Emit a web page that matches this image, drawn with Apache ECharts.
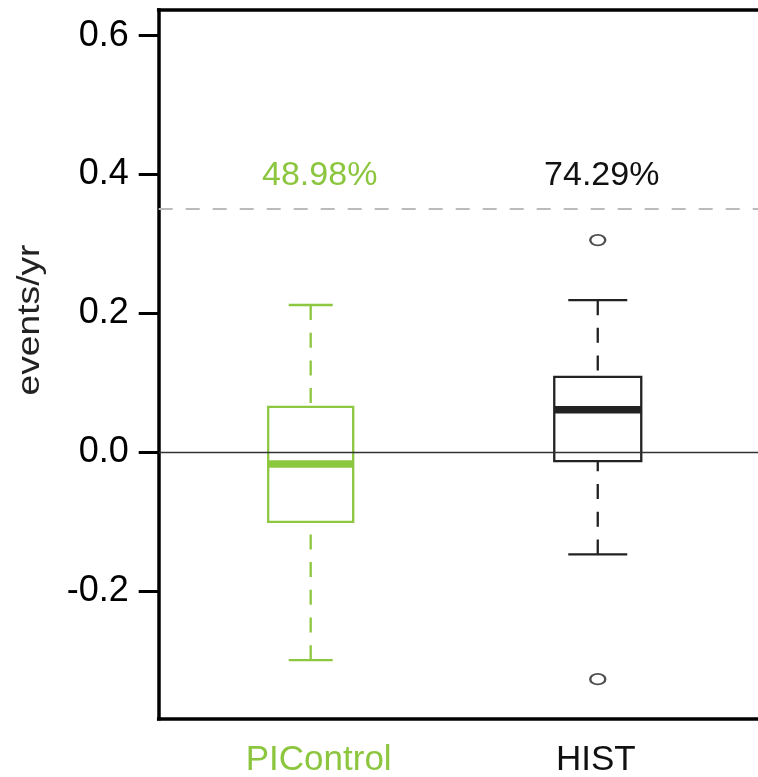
<!DOCTYPE html>
<html><head><meta charset="utf-8">
<script src="https://cdn.jsdelivr.net/npm/echarts@6/dist/echarts.min.js"></script>
<style>html,body{margin:0;padding:0;background:#fff;overflow:hidden}#c{width:758px;height:777px}</style>
</head><body><div id="c"></div>
<script>
// ---- data ----
const categories = ['PIControl', 'HIST'];
const whiskerLow = [-0.2997, -0.1474];
const quartile1 = [-0.1004, -0.0130];
const medians = [-0.0169, 0.0612];
const quartile3 = [0.0653, 0.1085];
const whiskerHigh = [0.2120, 0.2190];
const outlierCategoryIndex = [1, 1];
const outlierValues = [0.3055, -0.3270];
const percentLabels = ['48.98%', '74.29%'];
const thresholdValue = 0.351;
const yTickValues = [-0.2, 0, 0.2, 0.4, 0.6];

// ---- styles / layout ----
const FONT = 'Liberation Sans, Arial, Helvetica, sans-serif';
const boxColors = ['#8dc63f', '#222222'];
const textColors = ['#8cc63f', '#111111'];
const boxWidthPx = [85, 87];
const capWidthPx = [44, 59];
const pctLabelY = 0.399;
const pctLabelDx = [9, 4];
const X_MIN = 0.4705, X_MAX = 2.6;
const frameLine = {show: true, onZero: false, lineStyle: {color: '#000', width: 3.5, cap: 'square'}};

const chart = echarts.init(document.getElementById('c'), null, {renderer: 'canvas'});

const boxData = categories.map((c, i) => [i + 1, whiskerLow[i], quartile1[i], medians[i], quartile3[i], whiskerHigh[i]]);
const pctData = categories.map((c, i) => [i + 1, pctLabelY]);
const outlierData = outlierValues.map((v, i) => [outlierCategoryIndex[i] + 1, v]);

function renderBox(params, api) {
  const i = params.dataIndex;
  const x = api.value(0);
  const col = boxColors[i];
  const pLow = api.coord([x, api.value(1)]);
  const pQ1 = api.coord([x, api.value(2)]);
  const pMed = api.coord([x, api.value(3)]);
  const pQ3 = api.coord([x, api.value(4)]);
  const pHigh = api.coord([x, api.value(5)]);
  const cx = pMed[0];
  const hb = boxWidthPx[i] / 2, hc = capWidthPx[i] / 2;
  const dash = [15, 12.7];
  return {
    type: 'group',
    children: [
      {type: 'line', shape: {x1: cx, y1: pHigh[1], x2: cx, y2: pQ3[1]}, style: {stroke: col, lineWidth: 2.3, lineDash: dash}},
      {type: 'line', shape: {x1: cx, y1: pLow[1], x2: cx, y2: pQ1[1]}, style: {stroke: col, lineWidth: 2.3, lineDash: dash}},
      {type: 'line', shape: {x1: cx - hc, y1: pHigh[1], x2: cx + hc, y2: pHigh[1]}, style: {stroke: col, lineWidth: 2.3}},
      {type: 'line', shape: {x1: cx - hc, y1: pLow[1], x2: cx + hc, y2: pLow[1]}, style: {stroke: col, lineWidth: 2.3}},
      {type: 'rect', shape: {x: cx - hb, y: pQ3[1], width: hb * 2, height: pQ1[1] - pQ3[1]}, style: {fill: 'none', stroke: col, lineWidth: 2.3}},
      {type: 'line', shape: {x1: cx - hb, y1: pMed[1], x2: cx + hb, y2: pMed[1]}, style: {stroke: col, lineWidth: 7.5}}
    ]
  };
}

function renderPct(params, api) {
  const i = params.dataIndex;
  const p = api.coord([api.value(0), api.value(1)]);
  return {
    type: 'text',
    x: p[0] + pctLabelDx[i], y: p[1],
    style: {text: percentLabels[i], fill: textColors[i], font: '34px ' + FONT, align: 'center', verticalAlign: 'middle'}
  };
}

const option = {
  animation: false,
  backgroundColor: '#ffffff',
  grid: {left: 158.7, top: 10, bottom: 58.3, right: -12, containLabel: false, outerBoundsMode: 'none', show: false},
  xAxis: [{
    type: 'value', min: X_MIN, max: X_MAX, position: 'bottom',
    axisLine: frameLine, axisTick: {show: false}, splitLine: {show: false},
    axisLabel: {
      customValues: [1, 2], margin: 24,
      formatter: v => (v === 1 ? '{a|' + categories[0] + '}' : '{b|' + categories[1] + '}'),
      rich: {
        a: {color: textColors[0], fontSize: 35, fontFamily: FONT, padding: [0, 0, 0, 16]},
        b: {color: textColors[1], fontSize: 35, fontFamily: FONT, padding: [0, 4, 0, 0]}
      }
    }
  }, {
    type: 'value', min: X_MIN, max: X_MAX, position: 'top',
    axisLine: frameLine, axisTick: {show: false}, splitLine: {show: false}, axisLabel: {show: false}
  }],
  yAxis: {
    type: 'value', min: -0.384, max: 0.637, position: 'left',
    axisLine: frameLine, splitLine: {show: false},
    axisTick: {show: true, customValues: yTickValues, length: 20, lineStyle: {color: '#000', width: 3}},
    axisLabel: {customValues: yTickValues, margin: 30, color: '#000', fontSize: 36, fontFamily: FONT,
      formatter: v => v.toFixed(1)}
  },
  graphic: [{
    type: 'text', x: 30, y: 320, rotation: Math.PI / 2, scaleX: 1.2,
    style: {text: 'events/yr', fill: '#222', font: '31px ' + FONT, align: 'center', verticalAlign: 'middle'}
  }],
  series: [
    {
      type: 'custom', renderItem: renderBox, data: boxData, silent: true, clip: false, z: 3, xAxisIndex: 0,
      markLine: {
        silent: true, symbol: 'none', label: {show: false}, animation: false,
        data: [
          {yAxis: 0, lineStyle: {color: '#333', width: 1.3, type: 'solid'}},
          {yAxis: thresholdValue, lineStyle: {color: '#bbbbbb', width: 2.2, type: [14, 13]}}
        ]
      }
    },
    {
      type: 'scatter', data: outlierData, symbol: 'emptyCircle', symbolSize: [15, 10.5], silent: true, xAxisIndex: 0,
      itemStyle: {color: '#222', borderColor: '#222', borderWidth: 2.5}, z: 4
    },
    {type: 'custom', renderItem: renderPct, data: pctData, silent: true, z: 5, xAxisIndex: 0}
  ]
};
chart.setOption(option);
</script></body></html>
